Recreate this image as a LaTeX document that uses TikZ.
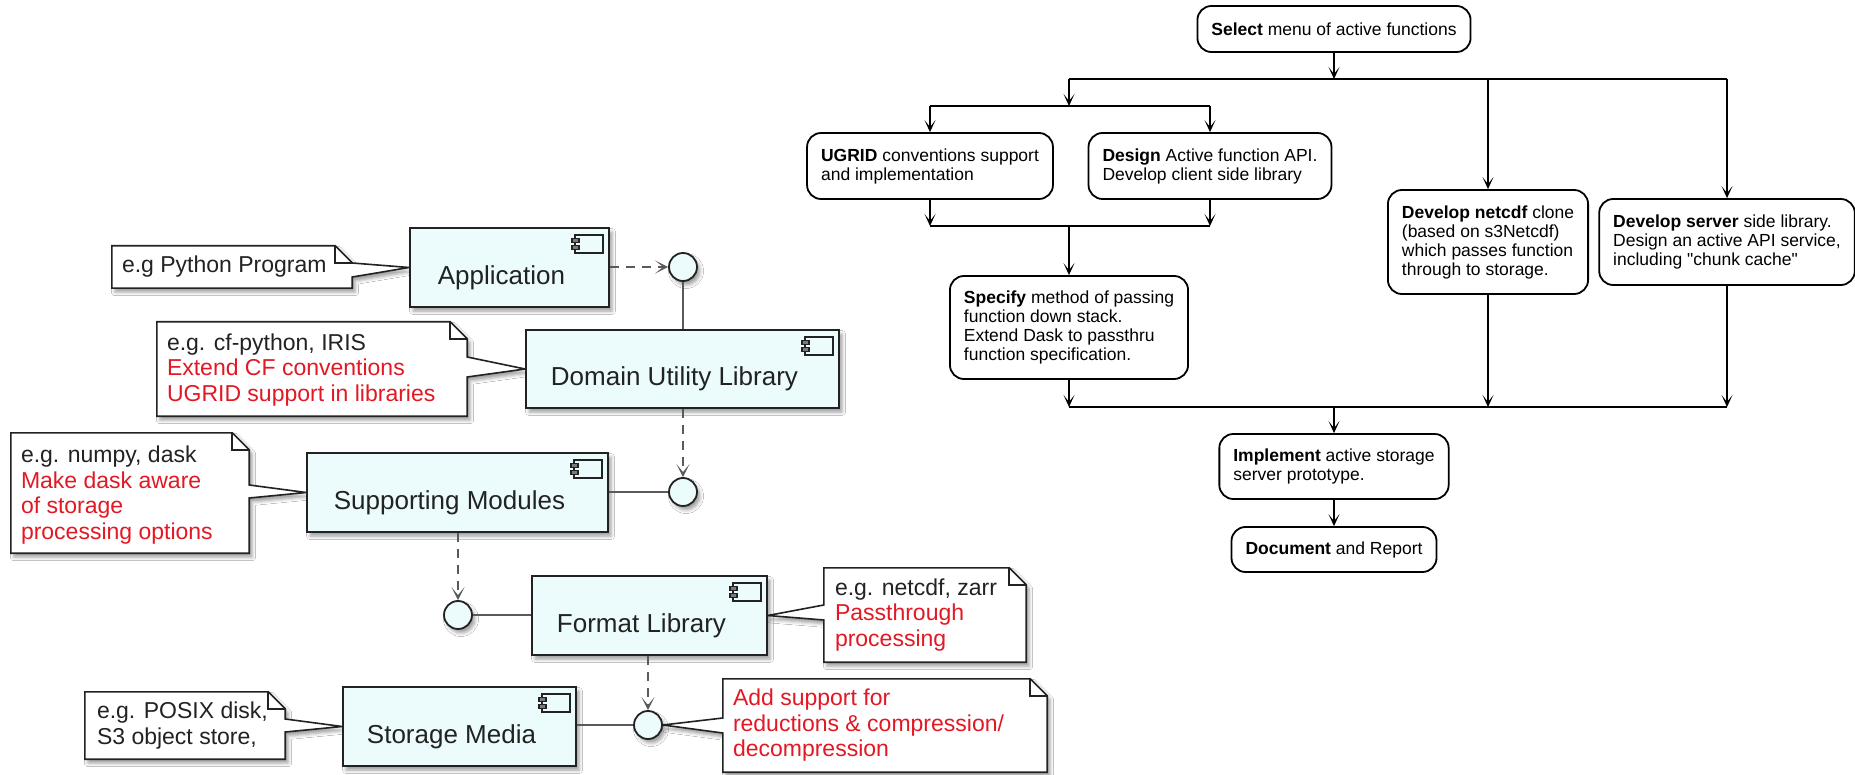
\documentclass[tikz,border=0pt]{standalone}
\usepackage{fontspec}
\setmainfont{Liberation Sans}
\newfontfamily\plainquotes{Liberation Sans}
\usetikzlibrary{arrows.meta,shadows.blur,backgrounds,calc}
\definecolor{compfill}{RGB}{236,252,253}
\definecolor{notered}{RGB}{226,24,36}
\definecolor{linegray}{RGB}{90,90,90}
\definecolor{edge}{RGB}{34,34,34}

\tikzset{
  softshadow/.style={blur shadow={shadow xshift=3pt,shadow yshift=-4pt,shadow blur radius=3.5pt,shadow opacity=38}},
  comp/.style={draw=edge,line width=1.8pt,fill=compfill,softshadow,inner sep=0pt},
  comptext/.style={font=\fontsize{26}{30}\selectfont,text=edge,inner sep=0pt},
  iface/.style={circle,draw=edge,line width=1.8pt,fill=compfill,softshadow,minimum size=28pt,inner sep=0pt},
  noteframe/.style={inner sep=0pt},
  notetext/.style={font=\fontsize{23}{25.5}\selectfont,align=left,inner sep=0pt,text=edge},
  noteshape/.style={draw=edge,line width=1.6pt,fill=white,line join=miter,softshadow},
  notefold/.style={draw=edge,line width=1.6pt},
  dep/.style={draw=linegray,line width=1.8pt,dash pattern=on 9pt off 7pt,
    -{Stealth[length=13pt,width=13pt,inset=8pt]}},
  link/.style={draw=linegray,line width=1.8pt},
  act/.style={draw=black,line width=1.8pt,rounded corners=14pt,fill=white,
    font=\fontsize{17.5}{19}\selectfont,align=left,inner xsep=14pt,inner ysep=0pt},
  flow/.style={draw=black,line width=1.8pt,-{Stealth[length=12pt,width=11pt,inset=7pt]}},
  bar/.style={draw=black,line width=1.8pt},
  compicon/.pic={
    \draw[edge,fill=compfill,line width=1.6pt] (3,0) rectangle (31,18);
    \draw[edge,fill=edge!60,line width=1.3pt] (0,3.5) rectangle (7,7.5);
    \draw[edge,fill=edge!60,line width=1.3pt] (0,10.5) rectangle (7,14.5);
  }
}

\begin{document}
\begin{tikzpicture}[x=1pt,y=-1pt]
\useasboundingbox (0,0) rectangle (1855,775);

% ---------------- component stack ----------------
\node[comp,minimum width=199pt,minimum height=79pt] (app) at (509.5,267.5) {};
\node[comptext] (appT) at (501.5,277.5) {Application};
\pic at ([xshift=-38pt,yshift=-8pt]app.north east) {compicon};

\node[comp,minimum width=313pt,minimum height=78pt] (dul) at (682.5,369) {};
\node[comptext] (dulT) at (674.5,379) {Domain Utility Library};
\pic at ([xshift=-38pt,yshift=-8pt]dul.north east) {compicon};

\node[comp,minimum width=301pt,minimum height=79pt] (sm) at (457.5,492.5) {};
\node[comptext] (smT) at (449.5,502.5) {Supporting Modules};
\pic at ([xshift=-38pt,yshift=-8pt]sm.north east) {compicon};

\node[comp,minimum width=235pt,minimum height=79pt] (fl) at (649.5,615.5) {};
\node[comptext] (flT) at (641.5,625.5) {Format Library};
\pic at ([xshift=-38pt,yshift=-8pt]fl.north east) {compicon};

\node[comp,minimum width=233pt,minimum height=79pt] (stm) at (459.5,726.5) {};
\node[comptext] (stmT) at (451.5,736.5) {Storage Media};
\pic at ([xshift=-38pt,yshift=-8pt]stm.north east) {compicon};

% interfaces
\node[iface] (c1) at (683,267) {};
\node[iface] (c2) at (683,492) {};
\node[iface] (c3) at (458,615) {};
\node[iface] (c4) at (648,725) {};

% wiring between components and interfaces
\draw[dep] (app.east |- c1) -- (c1.west);
\draw[link] (c1.south) -- (c1.south |- dul.north);
\draw[dep] (c2.north |- dul.south) -- (c2.north);
\draw[link] (sm.east |- c2) -- (c2.west);
\draw[dep] (c3.north |- sm.south) -- (c3.north);
\draw[link] (c3.east) -- (fl.west |- c3);
\draw[dep] (c4.north |- fl.south) -- (c4.north);
\draw[link] (stm.east |- c4) -- (c4.west);

% ---------------- notes ----------------
\node[noteframe,minimum width=240pt,minimum height=42pt] (n1) at (232,267) {};
\node[notetext,anchor=west] (n1t) at ([xshift=10pt]n1.west) {e.g Python Program};

\node[noteframe,minimum width=310pt,minimum height=94pt] (n2) at (312,369) {};
\node[notetext,anchor=west] (n2t) at ([xshift=10pt,yshift=-1pt]n2.west)
  {e.g. cf-python, IRIS\\\textcolor{notered}{Extend CF conventions}\\\textcolor{notered}{UGRID support in libraries}};

\node[noteframe,minimum width=238pt,minimum height=120pt] (n3) at (130,493) {};
\node[notetext,anchor=west] (n3t) at ([xshift=10pt,yshift=-2pt]n3.west)
  {e.g. numpy, dask\\\textcolor{notered}{Make dask aware}\\\textcolor{notered}{of storage}\\\textcolor{notered}{processing options}};

\node[noteframe,minimum width=202pt,minimum height=94pt] (n4) at (925,615) {};
\node[notetext,anchor=west] (n4t) at ([xshift=11pt]n4.west)
  {e.g. netcdf, zarr\\\textcolor{notered}{Passthrough}\\\textcolor{notered}{processing}};

\node[noteframe,minimum width=324pt,minimum height=93pt] (n5) at (885,725.5) {};
\node[notetext,anchor=west] (n5t) at ([xshift=10pt]n5.west)
  {\textcolor{notered}{Add support for}\\\textcolor{notered}{reductions \& compression/}\\\textcolor{notered}{decompression}};

\node[noteframe,minimum width=200pt,minimum height=67pt] (n6) at (185,725.5) {};
\node[notetext,anchor=west] (n6t) at ([xshift=12pt]n6.west)
  {e.g. POSIX disk,\\S3 object store,};

\begin{scope}[on background layer]
  \fill[white] (0,0) rectangle (1855,775);
  % notes pointing right
  \draw[noteshape] (n1.north west) -- ([xshift=-17pt]n1.north east) -- ([yshift=-17pt]n1.north east)
    -- (n1.east |- 0,263) -- (app.west) -- (n1.east |- 0,277) -- (n1.south east) -- (n1.south west) -- cycle;
  \draw[notefold] ([xshift=-17pt]n1.north east) |- ([yshift=-17pt]n1.north east);

  \draw[noteshape] (n2.north west) -- ([xshift=-17pt]n2.north east) -- ([yshift=-17pt]n2.north east)
    -- (n2.east |- 0,357) -- (dul.west) -- (n2.east |- 0,377) -- (n2.south east) -- (n2.south west) -- cycle;
  \draw[notefold] ([xshift=-17pt]n2.north east) |- ([yshift=-17pt]n2.north east);

  \draw[noteshape] (n3.north west) -- ([xshift=-17pt]n3.north east) -- ([yshift=-17pt]n3.north east)
    -- (n3.east |- 0,485) -- (sm.west) -- (n3.east |- 0,498) -- (n3.south east) -- (n3.south west) -- cycle;
  \draw[notefold] ([xshift=-17pt]n3.north east) |- ([yshift=-17pt]n3.north east);

  \draw[noteshape] (n6.north west) -- ([xshift=-17pt]n6.north east) -- ([yshift=-17pt]n6.north east)
    -- (n6.east |- 0,719) -- (stm.west) -- (n6.east |- 0,732) -- (n6.south east) -- (n6.south west) -- cycle;
  \draw[notefold] ([xshift=-17pt]n6.north east) |- ([yshift=-17pt]n6.north east);

  % notes pointing left
  \draw[noteshape] (n4.north west) -- ([xshift=-17pt]n4.north east) -- ([yshift=-17pt]n4.north east)
    -- (n4.south east) -- (n4.south west) -- (n4.west |- 0,620) -- (fl.east) -- (n4.west |- 0,605) -- cycle;
  \draw[notefold] ([xshift=-17pt]n4.north east) |- ([yshift=-17pt]n4.north east);

  \draw[noteshape] (n5.north west) -- ([xshift=-17pt]n5.north east) -- ([yshift=-17pt]n5.north east)
    -- (n5.south east) -- (n5.south west) -- (n5.west |- 0,733) -- (c4.east) -- (n5.west |- 0,718) -- cycle;
  \draw[notefold] ([xshift=-17pt]n5.north east) |- ([yshift=-17pt]n5.north east);
\end{scope}

% ---------------- activity flow ----------------
\node[act,minimum height=46pt] (sel) at (1334,29) {\textbf{Select} menu of active functions};
\node[act,minimum height=66pt] (ugrid) at (930,166) {\textbf{UGRID} conventions support\\and implementation};
\node[act,minimum height=66pt] (design) at (1210,166) {\textbf{Design} Active function API.\\Develop client side library};
\node[act,minimum height=103pt] (spec) at (1069,327.5) {\textbf{Specify} method of passing\\function down stack.\\Extend Dask to passthru\\function specification.};
\node[act,minimum height=104pt] (netcdf) at (1488,242) {\textbf{Develop netcdf} clone\\(based on s3Netcdf)\\which passes function\\through to storage.};
\node[act,minimum height=86pt] (server) at (1727,242) {\textbf{Develop server} side library.\\Design an active API service,\\including {\plainquotes "chunk cache"}};
\node[act,minimum height=65pt] (impl) at (1334,466.5) {\textbf{Implement} active storage\\server prototype.};
\node[act,minimum height=45pt] (doc) at (1334,549.5) {\textbf{Document} and Report};

% fork bars
\coordinate (forkAL) at (1069,79);
\coordinate (forkAR) at (1727,79);
\coordinate (forkBL) at (930,106);
\coordinate (forkBR) at (1210,106);
\coordinate (joinBL) at (930,226);
\coordinate (joinBR) at (1210,226);
\coordinate (joinAL) at (1069,407);
\coordinate (joinAR) at (1727,407);

\draw[bar] (forkAL) -- (forkAR);
\draw[bar] (forkBL) -- (forkBR);
\draw[bar] (joinBL) -- (joinBR);
\draw[bar] (joinAL) -- (joinAR);

\draw[flow] (sel.south) -- (sel.south |- forkAL);
\draw[flow] (forkAL) -- (forkAL |- forkBL);
\draw[flow] (forkBL) -- (ugrid.north);
\draw[flow] (forkBR) -- (design.north);
\draw[flow] (netcdf.north |- forkAL) -- (netcdf.north);
\draw[flow] (forkAR) -- (server.north);
\draw[flow] (ugrid.south) -- (joinBL);
\draw[flow] (design.south) -- (joinBR);
\draw[flow] (spec.north |- joinBL) -- (spec.north);
\draw[flow] (spec.south) -- (joinAL);
\draw[flow] (netcdf.south) -- (netcdf.south |- joinAL);
\draw[flow] (server.south) -- (joinAR);
\draw[flow] (impl.north |- joinAL) -- (impl.north);
\draw[flow] (impl.south) -- (doc.north);
\end{tikzpicture}
\end{document}
